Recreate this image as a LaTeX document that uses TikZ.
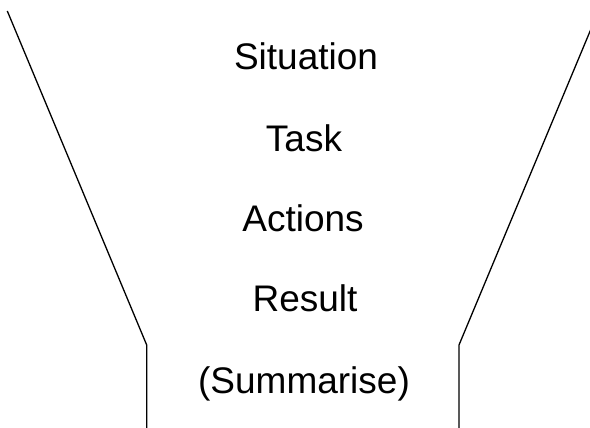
\documentclass[tikz,border=0pt]{standalone}
\usepackage{fontspec}
\setmainfont{Liberation Sans}
\begin{document}
\begin{tikzpicture}[x=1pt,y=-1pt,
  lbl/.style={anchor=base,inner sep=0pt,font=\fontsize{37}{44}\selectfont},
  edge/.style={line width=1.3pt,line join=miter}]
\useasboundingbox (0,0) rectangle (590,428);
\clip (0,0) rectangle (590,428);
\node[lbl] (s) at (306,70) {Situation};
\node[lbl] (t) at (304,151) {Task};
\node[lbl] (a) at (303,231) {Actions};
\node[lbl] (r) at (305,311) {Result};
\node[lbl] (m) at (304,393) {(Summarise)};
\coordinate (l1) at (7.3,11);
\coordinate (l2) at (146.7,345);
\coordinate (l3) at (146.7,430);
\coordinate (r1) at (598.5,11);
\coordinate (r2) at (459,345);
\coordinate (r3) at (459,430);
\draw[edge] (l1) -- (l2) -- (l3);
\draw[edge] (r1) -- (r2) -- (r3);
\end{tikzpicture}
\end{document}
